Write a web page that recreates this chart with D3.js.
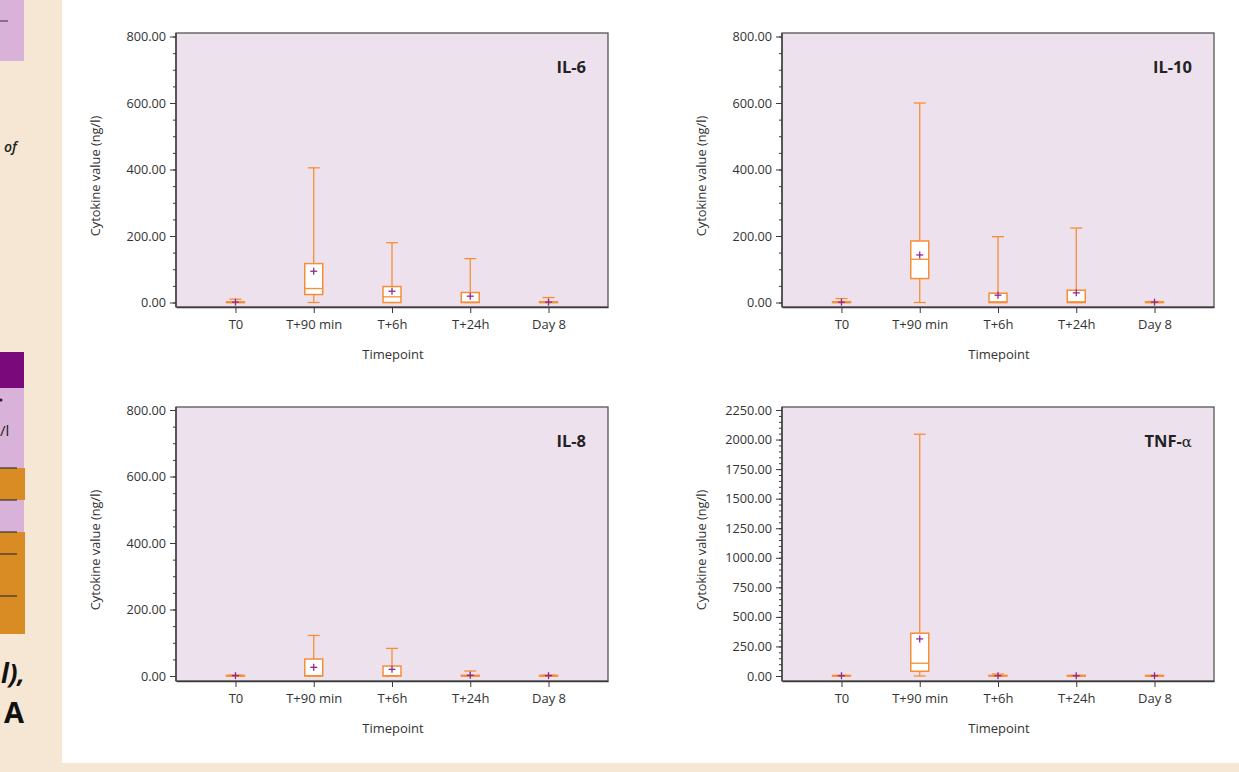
<!DOCTYPE html>
<html><head><meta charset="utf-8">
<script src="https://cdn.jsdelivr.net/npm/d3@7"></script>
<style>
html,body{margin:0;padding:0;background:#f6e7d5;}
svg{display:block;}
text{font-family:"Open Sans",sans-serif;}
</style></head>
<body>
<svg id="chart" width="1239" height="772"></svg>
<script>
// ---- data ----
const categories = ["T0", "T+90 min", "T+6h", "T+24h", "Day 8"];
// each row: [min, q1, median, q3, max, mean]
const il6  = [[0,0,0,2,10,1],[0,24,42,117,405,94],[0,0,17,48,180,34],[0,0,1,30,132,19],[0,0,0,2,15,1]];
const il10 = [[0,0,0,2,12,1],[0,72,130,185,600,143],[0,0,2,28,198,22],[0,0,2,37,224,29],[0,0,0,2,3,1]];
const il8  = [[0,0,0,2,3,1],[0,0,1,51,122,26],[0,0,1,30,83,20],[0,0,0,2,15,2],[0,0,0,2,3,1]];
const tnf  = [[0,0,0,5,5,2],[0,40,108,362,2045,314],[0,0,0,5,17,3],[0,0,0,5,5,2],[0,0,0,5,5,2]];
const ticks800 = [0, 200, 400, 600, 800];
const ticksTnf = [0, 250, 500, 750, 1000, 1250, 1500, 1750, 2000, 2250];
const panelTitles = ["IL-6", "IL-10", "IL-8", "TNF-"];

const svg = d3.select("#chart");
svg.append("rect").attr("x",0).attr("y",0).attr("width",1239).attr("height",772).attr("fill","#f6e7d5");
svg.append("rect").attr("x",62).attr("y",0).attr("width",1177).attr("height",763).attr("fill","#ffffff");

// ---- left strip (cut-off table) ----
const strip = svg.append("g");
const lav = "#d8b2d8", org = "#d98c24";
[[0,0,24,61,lav],[0,352,24,36,"#7a0a7b"],[0,388,24,80,lav],[0,468,25,32,org],[0,500,24,32,lav],[0,532,25,102,org]]
  .forEach(r => strip.append("rect").attr("x",r[0]).attr("y",r[1]).attr("width",r[2]).attr("height",r[3]).attr("fill",r[4]));
[21].forEach(y => strip.append("line").attr("x1",0).attr("x2",8).attr("y1",y).attr("y2",y).attr("stroke","#333").attr("stroke-width",1));
[468,500,532,554,596].forEach(y => strip.append("line").attr("x1",0).attr("x2",17).attr("y1",y).attr("y2",y).attr("stroke","#333").attr("stroke-width",1.2));
strip.append("text").attr("x",4).attr("y",152).attr("font-size",14).attr("font-style","italic").attr("font-weight","600").attr("fill","#222").text("of");
strip.append("circle").attr("cx",1).attr("cy",400).attr("r",1.5).attr("fill","#222");
strip.append("text").attr("x",0).attr("y",436).attr("font-size",15).attr("fill","#222").text("/l");
strip.append("text").attr("x",1).attr("y",683).attr("font-size",26).attr("font-weight","bold").attr("font-style","italic")
  .attr("font-family","Liberation Sans, Arial, sans-serif").attr("fill","#111").text("l),");
strip.append("text").attr("x",24).attr("y",723).attr("font-size",29).attr("font-weight","bold").attr("text-anchor","end")
  .attr("font-family","Liberation Sans, Arial, sans-serif").attr("fill","#111").text("A");

// ---- panels ----
const panels = [
  {title: panelTitles[0], data: il6,  ticks: ticks800, minorStep: 50, x: 176, y: 33, zero: 302.5, topv: 36.5},
  {title: panelTitles[1], data: il10, ticks: ticks800, minorStep: 50, x: 782, y: 33, zero: 302.5, topv: 36.5},
  {title: panelTitles[2], data: il8,  ticks: ticks800, minorStep: 50, x: 176, y: 407, zero: 676, topv: 410},
  {title: panelTitles[3], data: tnf,  ticks: ticksTnf, minorStep: 50, x: 782, y: 407, zero: 676, topv: 410, alpha: true}
];
const W = 432, H = 274;
const orange = "#f68e36", purple = "#8e2a8f", axisCol = "#3a3a3a", textCol = "#333";

panels.forEach(p => {
  const g = svg.append("g");
  const ymax = p.ticks[p.ticks.length-1];
  const y = d3.scaleLinear().domain([0, ymax]).range([p.zero, p.topv]);
  const x = d3.scalePoint().domain(categories).range([p.x, p.x + W]).padding(0.76);

  g.append("rect").attr("x",p.x).attr("y",p.y).attr("width",W).attr("height",H)
    .attr("fill","#ede1ee").attr("stroke","#555").attr("stroke-width",1.3);

  // minor ticks
  const minor = d3.range(0, ymax + 0.1, p.minorStep);
  const yMinor = g.append("g").attr("transform",`translate(${p.x},0)`)
    .call(d3.axisLeft(y).tickValues(minor).tickSize(3).tickFormat(""));
  yMinor.select(".domain").remove();
  yMinor.selectAll("line").attr("stroke",axisCol);
  // major ticks
  const yAx = g.append("g").attr("transform",`translate(${p.x},0)`)
    .call(d3.axisLeft(y).tickValues(p.ticks).tickSize(6).tickPadding(4).tickFormat(d3.format(".2f")));
  yAx.select(".domain").remove();
  yAx.selectAll("line").attr("stroke",axisCol);
  yAx.selectAll("text").attr("font-size",12.7).attr("fill",textCol).attr("font-family","Open Sans, sans-serif");

  // x axis
  const xAx = g.append("g").attr("transform",`translate(0,${p.y + H})`)
    .call(d3.axisBottom(x).tickSize(6).tickSizeOuter(0).tickPadding(7));
  xAx.select(".domain").attr("stroke",axisCol).attr("stroke-width",1.3);
  xAx.selectAll("line").attr("stroke",axisCol);
  xAx.selectAll("text").attr("font-size",13).attr("fill",textCol).attr("font-family","Open Sans, sans-serif");

  // left domain line darker
  g.append("line").attr("x1",p.x).attr("x2",p.x).attr("y1",p.y).attr("y2",p.y+H).attr("stroke",axisCol).attr("stroke-width",1.3);

  // axis titles
  g.append("text").attr("x", p.x + W/2 + 1).attr("y", p.y + H + 52).attr("text-anchor","middle")
    .attr("font-size",13).attr("fill",textCol).text("Timepoint");
  g.append("text").attr("transform",`translate(${p.x - 76},${p.y + H/2 + 6}) rotate(-90)`).attr("text-anchor","middle")
    .attr("font-size",12.8).attr("fill",textCol).text("Cytokine value (ng/l)");

  // panel title
  const t = g.append("text").attr("x", p.x + W - 22).attr("y", p.y + 40).attr("text-anchor","end")
    .attr("font-size",16.5).attr("font-weight","bold").attr("fill","#222").text(p.title);
  if (p.alpha) t.append("tspan").attr("font-weight","normal").attr("font-family","DejaVu Serif, serif").attr("font-size",15).text("α");

  // boxes
  const bw = 18, cw = 12;
  p.data.forEach((d, i) => {
    const cx = x(categories[i]);
    const [mn, q1, md, q3, mx, mean] = d;
    const bx = g.append("g");
    bx.append("line").attr("x1",cx).attr("x2",cx).attr("y1",y(q3)).attr("y2",y(mx)).attr("stroke",orange).attr("stroke-width",1.3);
    bx.append("line").attr("x1",cx).attr("x2",cx).attr("y1",y(q1)).attr("y2",y(mn)).attr("stroke",orange).attr("stroke-width",1.3);
    bx.append("line").attr("x1",cx-cw/2).attr("x2",cx+cw/2).attr("y1",y(mx)).attr("y2",y(mx)).attr("stroke",orange).attr("stroke-width",1.3);
    bx.append("line").attr("x1",cx-cw/2).attr("x2",cx+cw/2).attr("y1",y(mn)).attr("y2",y(mn)).attr("stroke",orange).attr("stroke-width",1.3);
    bx.append("rect").attr("x",cx-bw/2).attr("y",y(q3)).attr("width",bw).attr("height",Math.max(0.5, y(q1)-y(q3)))
      .attr("fill","#fff").attr("stroke",orange).attr("stroke-width",1.5);
    bx.append("line").attr("x1",cx-bw/2).attr("x2",cx+bw/2).attr("y1",y(md)).attr("y2",y(md)).attr("stroke",orange).attr("stroke-width",1.3);
    const my = y(mean);
    bx.append("line").attr("x1",cx-3.5).attr("x2",cx+3.5).attr("y1",my).attr("y2",my).attr("stroke",purple).attr("stroke-width",1.3);
    bx.append("line").attr("x1",cx).attr("x2",cx).attr("y1",my-3.5).attr("y2",my+3.5).attr("stroke",purple).attr("stroke-width",1.3);
  });
});
</script>
</body></html>
